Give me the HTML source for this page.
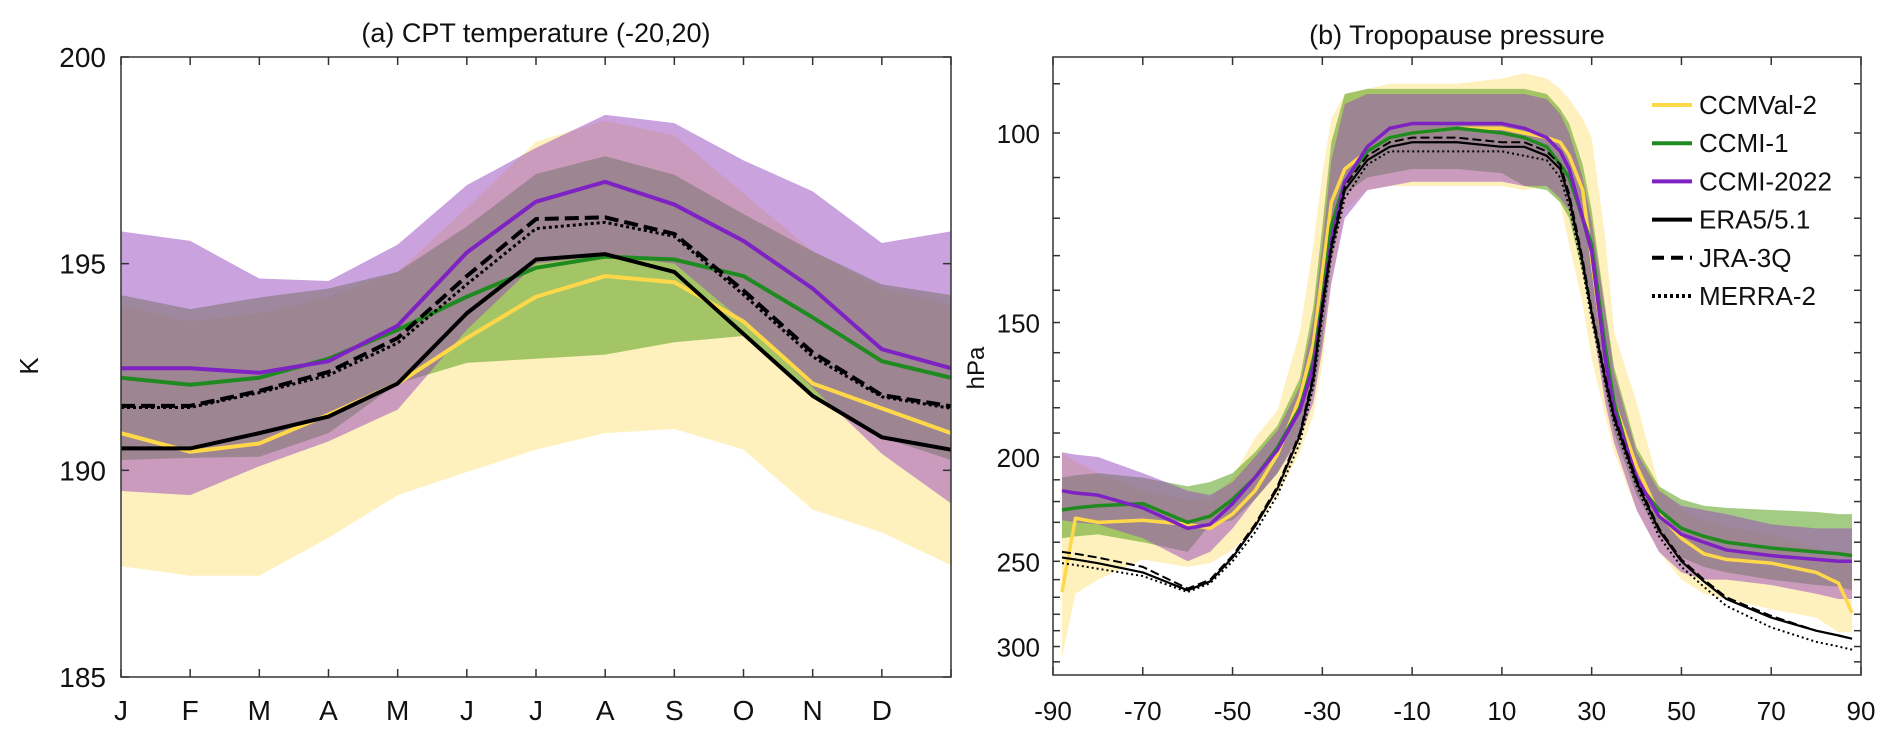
<!DOCTYPE html>
<html><head><meta charset="utf-8"><style>
html,body{margin:0;padding:0;background:#fff;}
svg{display:block;font-family:"Liberation Sans",sans-serif;}
</style></head><body>
<svg id="fig" width="1892" height="739" viewBox="0 0 1892 739" xmlns="http://www.w3.org/2000/svg"></svg>
<script>
// ---------- Panel (a) data ----------
const months = ["J","F","M","A","M","J","J","A","S","O","N","D"];
const yTicksA = [185,190,195,200];
const era5A  = [190.53,190.53,190.9,191.3,192.1,193.8,195.1,195.23,194.8,193.3,191.8,190.8,190.5];
const jraA   = [191.56,191.56,191.92,192.38,193.2,194.7,196.08,196.12,195.72,194.35,192.85,191.82,191.55];
const merraA = [191.52,191.52,191.88,192.3,193.08,194.5,195.85,196.0,195.66,194.25,192.75,191.78,191.5];
const ccmi2022A = [192.47,192.47,192.36,192.64,193.5,195.27,196.5,196.98,196.43,195.55,194.4,192.93,192.47];
const ccmi1A = [192.24,192.07,192.24,192.7,193.4,194.2,194.9,195.17,195.1,194.7,193.7,192.64,192.24];
const ccmval2A = [190.9,190.45,190.65,191.35,192.1,193.2,194.2,194.7,194.55,193.6,192.1,191.5,190.9];
const ccmval2HiA = [194.0,193.6,193.8,194.2,194.8,196.35,197.95,198.46,198.1,196.7,195.3,194.4,194.0];
const ccmval2LoA = [187.68,187.45,187.45,188.37,189.4,189.96,190.5,190.9,191.0,190.5,189.05,188.5,187.7];
const ccmi1HiA = [194.24,193.9,194.18,194.4,194.8,195.9,197.17,197.6,197.15,196.2,195.3,194.5,194.24];
const ccmi1LoA = [190.25,190.3,190.33,190.9,192.1,192.6,192.7,192.8,193.1,193.25,191.8,190.8,190.25];
const ccmi2022HiA = [195.78,195.55,194.64,194.58,195.46,196.9,197.8,198.6,198.4,197.5,196.75,195.5,195.78];
const ccmi2022LoA = [189.5,189.4,190.1,190.7,191.47,193.4,195.0,195.2,195.0,193.6,192.0,190.4,189.2];

// ---------- Panel (b) data ----------
const lat = [-88,-85,-80,-70,-60,-55,-50,-45,-40,-35,-32,-30,-28,-25,-20,-15,-10,0,10,15,20,23,25,28,30,33,35,40,45,50,55,60,70,80,85,88];
const xTicksB = [-90,-70,-50,-30,-10,10,30,50,70,90];
const yLabelsB = [100,150,200,250,300];
const era5B  = [248,249,251,256,266,261,248,232,214,191,169,145,128,113,106,103,102,102,103,103,105,108,115,132,147,169,184,211,234,250,261,271,282,290,293,295];
const jraB   = [245,246,248,253,265,260,247,231,213,190,168,144,127,112,105,102,101,101,102,102,104,107,114,131,146,168,183,210,233,249,260,270,281,290,293,295];
const merraB = [251,252,254,258,267,262,250,235,217,194,172,148,130,115,107,104,104,104,104,105,106,110,117,134,149,171,186,213,237,253,264,275,288,297,300,302];
const ccmval2B = [267,228,230,229,231,233,226,215,199,176,157,135,116,108,104,101,100,99,99,100,101,102,105,113,131,162,178,204,226,238,246,249,251,256,262,279];
const ccmi1B = [224,223,222,221,230,227,219,209,196,180,163,143,122,111,104,101,100,99,100,101,103,107,110,120,127,158,178,211,224,233,237,240,243,245,246,247];
const ccmi2022B = [215,216,217,223,233,231,221,209,197,181,165,145,126,111,103,99,98,98,98,99,101,104,108,120,129,162,181,209,227,236,240,244,247,249,250,250];
const ccmval2HiB = [198,202,207,215,219,219,209,192,181,153,127,109,97,92,91,90,90,90,89,88,89,91,93,97,101,125,153,178,213,224,229,232,236,243,248,253];
const ccmval2LoB = [307,268,260,249,253,251,244,233,217,198,183,164,138,118,113,112,112,112,112,113,112,116,127,144,162,183,198,224,245,260,268,271,277,282,291,291];
const ccmi1HiB = [209,208,207,209,213,211,207,198,187,169,145,122,102,92,91,91,91,91,91,91,92,95,98,107,118,145,165,196,213,219,222,223,224,225,226,226];
const ccmi1LoB = [238,237,236,240,245,231,229,219,207,190,174,156,132,114,110,109,108,108,109,112,113,116,120,135,149,174,190,217,236,248,253,256,260,263,264,266];
const ccmi2022HiB = [198,199,200,207,215,217,211,200,189,172,149,127,106,94,92,92,92,92,92,92,93,96,100,110,121,146,167,198,215,222,224,226,231,233,233,233];
const ccmi2022LoB = [229,230,231,238,250,245,233,219,207,192,178,159,138,120,113,112,111,111,111,112,112,115,118,132,149,178,194,224,245,256,260,260,263,268,271,271];

const NS = "http://www.w3.org/2000/svg";
const svg = document.getElementById("fig");
function mk(tag, attrs, parent){
  const e = document.createElementNS(NS, tag);
  for (const k in attrs) e.setAttribute(k, attrs[k]);
  (parent||svg).appendChild(e);
  return e;
}
function txt(s, x, y, size, anchor, parent){
  const t = mk("text", {x:x, y:y, "font-size":size, "text-anchor":anchor||"middle", fill:"#111"}, parent);
  t.textContent = s;
  return t;
}

// ===== Panel A =====
const A = {l:121, r:951, t:57, b:677};
const xA = i => A.l + i*(A.r-A.l)/12;
const yA = v => A.b - (v-185)*(A.b-A.t)/15;
const gA = mk("g", {});


mk("defs",{}).innerHTML = '<clipPath id="clipA"><rect x="121" y="57" width="830" height="620"/></clipPath><clipPath id="clipB"><rect x="1053" y="57" width="808" height="618"/></clipPath>';

function bandA(hi, lo, fill, name){
  let d = hi.map((v,i)=>(i?"L":"M")+xA(i)+","+yA(v)).join("");
  for (let i=lo.length-1;i>=0;i--) d += "L"+xA(i)+","+yA(lo[i]);
  const p = mk("path", {d:d+"Z", fill:fill, stroke:"none", "clip-path":"url(#clipA)"}, gA);
  
  
}
function lineA(vals, color, w, dash, name){
  const d = vals.map((v,i)=>(i?"L":"M")+xA(i)+","+yA(v)).join("");
  const p = mk("path", {d:d, fill:"none", stroke:color, "stroke-width":w, "stroke-dasharray":dash||"none", "stroke-linejoin":"round"}, gA);
  
  
}
bandA(ccmval2HiA, ccmval2LoA, "rgba(252,220,90,0.4)", "ccmval2-band");
bandA(ccmi1HiA, ccmi1LoA, "rgba(90,160,30,0.55)", "ccmi1-band");
bandA(ccmi2022HiA, ccmi2022LoA, "rgba(150,70,190,0.5)", "ccmi2022-band");
lineA(ccmval2A, "#ffd84a", 4, null, "ccmval2-line");
lineA(ccmi1A, "#1f8a1f", 4, null, "ccmi1-line");
lineA(ccmi2022A, "#7f22c4", 4, null, "ccmi2022-line");
lineA(jraA, "#000", 4, "14,6", "jra3q-line");
lineA(merraA, "#000", 3, "3,3", "merra2-line");
lineA(era5A, "#000", 4, null, "era5-line");
// axes A
const frA = mk("rect", {x:A.l, y:A.t, width:A.r-A.l, height:A.b-A.t, fill:"none", stroke:"#333", "stroke-width":1.5}, gA);


for (let i=0;i<=12;i++){
  mk("line",{x1:xA(i),x2:xA(i),y1:A.b,y2:A.b-8,stroke:"#333","stroke-width":1.5},gA);
  mk("line",{x1:xA(i),x2:xA(i),y1:A.t,y2:A.t+8,stroke:"#333","stroke-width":1.5},gA);
}
months.forEach((m,i)=>{
  const t = txt(m, xA(i), 720, 28, "middle", gA);
  
  
});
yTicksA.forEach(v=>{
  mk("line",{x1:A.l,x2:A.l+8,y1:yA(v),y2:yA(v),stroke:"#333","stroke-width":1.5},gA);
  mk("line",{x1:A.r,x2:A.r-8,y1:yA(v),y2:yA(v),stroke:"#333","stroke-width":1.5},gA);
  const t = txt(String(v), 106, yA(v)+10, 28, "end", gA);
  
  
});
const tA = txt("(a) CPT temperature (-20,20)", (A.l+A.r)/2, 42, 27, "middle", gA);


const yTA = txt("K", 0, 0, 26, "middle", gA);
yTA.setAttribute("transform","translate(38,366) rotate(-90)");



// ===== Panel B =====
const B = {l:1053, r:1861, t:57, b:675};
const xB = v => B.l + (v+90)*(B.r-B.l)/180;
const yB = p => 133 + Math.log2(p/100)*324;
const gB = mk("g", {});


function bandB(hi, lo, fill, name){
  let d = hi.map((v,i)=>(i?"L":"M")+xB(lat[i])+","+yB(v)).join("");
  for (let i=lo.length-1;i>=0;i--) d += "L"+xB(lat[i])+","+yB(lo[i]);
  const p = mk("path", {d:d+"Z", fill:fill, stroke:"none", "clip-path":"url(#clipB)"}, gB);
  
  
}
function lineB(vals, color, w, dash, name){
  const d = vals.map((v,i)=>(i?"L":"M")+xB(lat[i])+","+yB(v)).join("");
  const p = mk("path", {d:d, fill:"none", stroke:color, "stroke-width":w, "stroke-dasharray":dash||"none", "stroke-linejoin":"round", "clip-path":"url(#clipB)"}, gB);
  
  
}
bandB(ccmval2HiB, ccmval2LoB, "rgba(252,220,90,0.4)", "ccmval2-band-b");
bandB(ccmi1HiB, ccmi1LoB, "rgba(90,160,30,0.55)", "ccmi1-band-b");
bandB(ccmi2022HiB, ccmi2022LoB, "rgba(150,70,190,0.5)", "ccmi2022-band-b");
lineB(ccmval2B, "#ffd84a", 3.5, null, "ccmval2-line-b");
lineB(ccmi1B, "#1f8a1f", 3.5, null, "ccmi1-line-b");
lineB(ccmi2022B, "#7f22c4", 3.5, null, "ccmi2022-line-b");
lineB(jraB, "#000", 2, "9,4", "jra3q-line-b");
lineB(merraB, "#000", 2, "2,3", "merra2-line-b");
lineB(era5B, "#000", 2.2, null, "era5-line-b");
const frB = mk("rect", {x:B.l, y:B.t, width:B.r-B.l, height:B.b-B.t, fill:"none", stroke:"#333", "stroke-width":1.5}, gB);


xTicksB.forEach(v=>{
  mk("line",{x1:xB(v),x2:xB(v),y1:B.b,y2:B.b-8,stroke:"#333","stroke-width":1.5},gB);
  mk("line",{x1:xB(v),x2:xB(v),y1:B.t,y2:B.t+8,stroke:"#333","stroke-width":1.5},gB);
  const t = txt(String(v), xB(v), 720, 26, "middle", gB);
  
  
});
for (let p=90;p<=310;p+=10){
  mk("line",{x1:B.l,x2:B.l+7,y1:yB(p),y2:yB(p),stroke:"#333","stroke-width":1.5},gB);
  mk("line",{x1:B.r,x2:B.r-7,y1:yB(p),y2:yB(p),stroke:"#333","stroke-width":1.5},gB);
}
yLabelsB.forEach(v=>{
  const t = txt(String(v), 1040, yB(v)+10, 26, "end", gB);
  
  
});
const tB = txt("(b) Tropopause pressure", (B.l+B.r)/2, 44, 27, "middle", gB);


const yTB = txt("hPa", 0, 0, 24, "middle", gB);
yTB.setAttribute("transform","translate(984,368) rotate(-90)");



// legend
const legNames = ["CCMVal-2","CCMI-1","CCMI-2022","ERA5/5.1","JRA-3Q","MERRA-2"];
const legColors = ["#ffd84a","#1f8a1f","#7f22c4","#000","#000","#000"];
const legDash = ["none","none","none","none","12,7","3,3"];
const gL = mk("g", {});


legNames.forEach((n,i)=>{
  const y = 105 + i*38.2;
  const e = mk("g", {}, gL);
  
  
  mk("line",{x1:1652,x2:1692,y1:y,y2:y,stroke:legColors[i],"stroke-width":i>=3?4:4,"stroke-dasharray":legDash[i]},e);
  txt(n, 1699, y+9, 26, "start", e);
});
</script>
</body></html>
